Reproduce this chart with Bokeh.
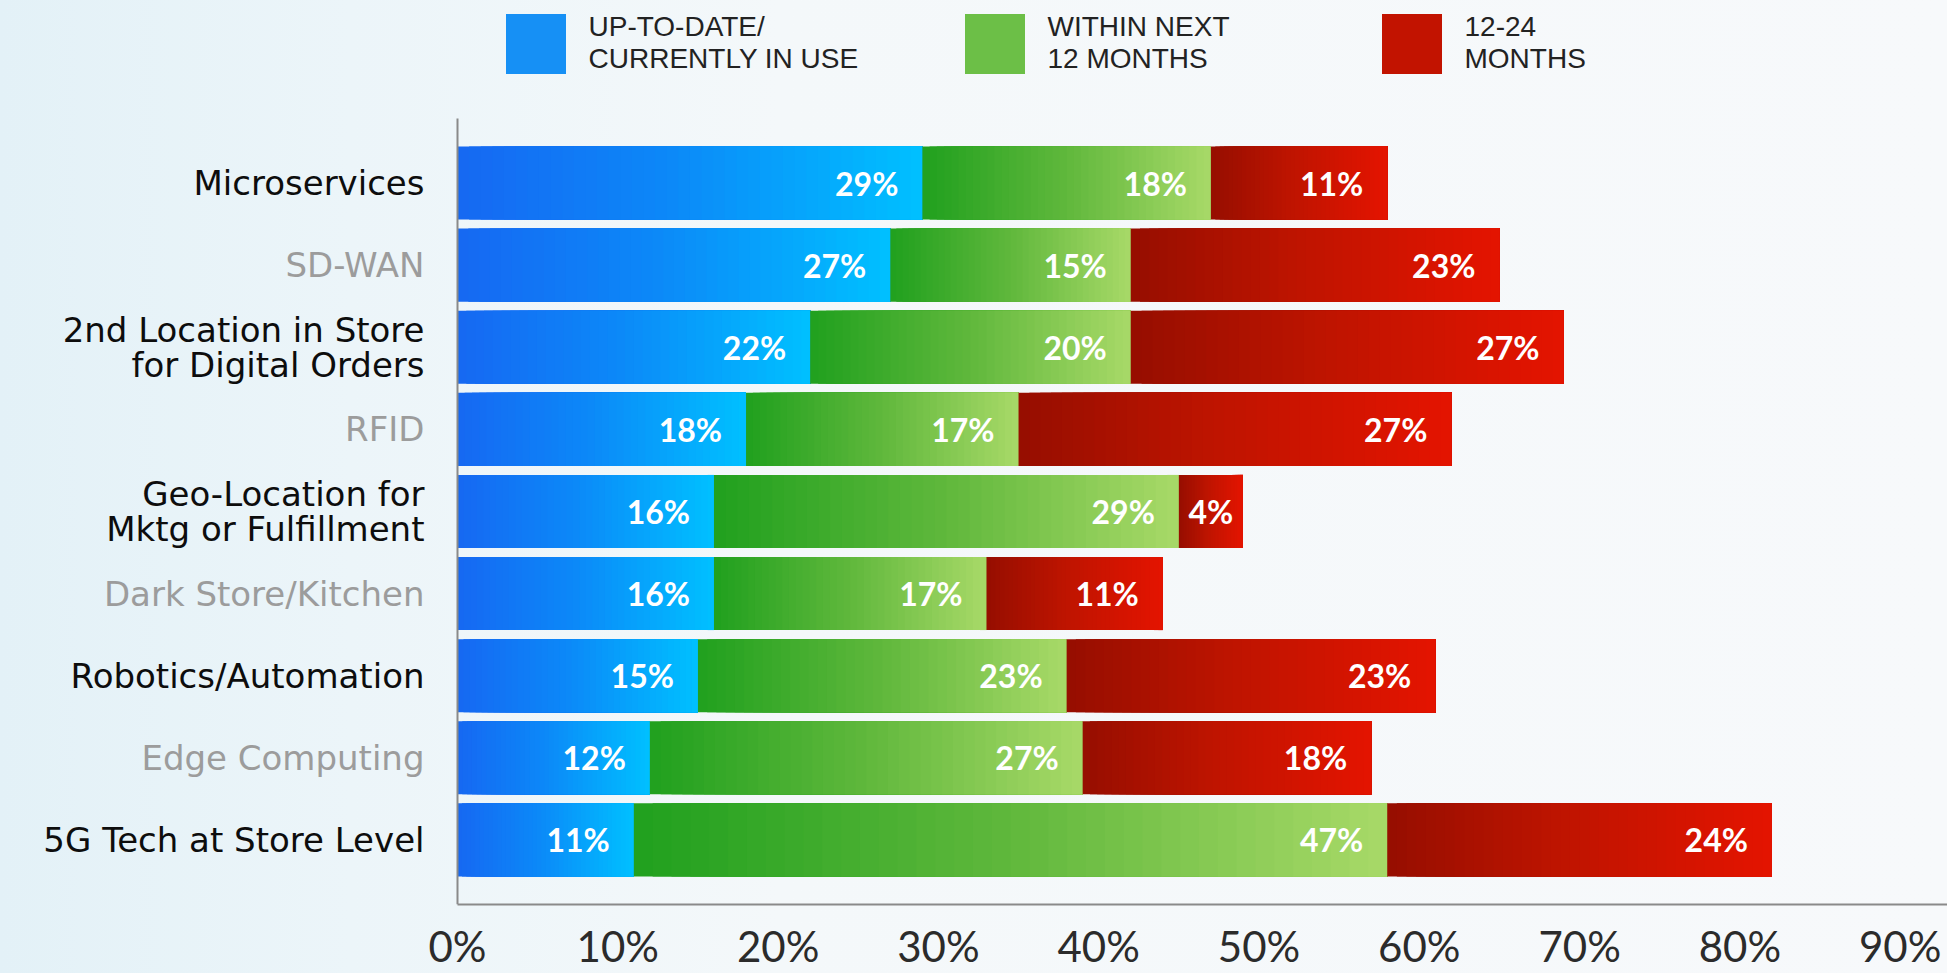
import numpy as np
from bokeh.plotting import figure
from bokeh.models import (ColumnDataSource, Range1d, FixedTicker,
                          Legend, LegendItem)
from bokeh.core.properties import value
from bokeh.embed import file_html
from bokeh.resources import INLINE

# ---------------- data ----------------
categories = [
    "Microservices",
    "SD-WAN",
    "2nd Location in Store\nfor Digital Orders",
    "RFID",
    "Geo-Location for\nMktg or Fulfillment",
    "Dark Store/Kitchen",
    "Robotics/Automation",
    "Edge Computing",
    "5G Tech at Store Level",
]
in_use = [29, 27, 22, 18, 16, 16, 15, 12, 11]
next_12_months = [18, 15, 20, 17, 29, 17, 23, 27, 47]
months_12_24 = [11, 23, 27, 27, 4, 11, 23, 18, 24]
series_names = ["UP-TO-DATE/\nCURRENTLY IN USE", "WITHIN NEXT\n12 MONTHS", "12-24\nMONTHS"]
x_ticks = [0, 10, 20, 30, 40, 50, 60, 70, 80, 90]
x_tick_labels = ["0%", "10%", "20%", "30%", "40%", "50%", "60%", "70%", "80%", "90%"]

# ---------------- styles ----------------
gradients = [
    [(0.0, (22, 104, 242)), (0.45, (12, 136, 248)), (1.0, (0, 192, 255))],
    [(0.0, (32, 160, 30)), (0.5, (96, 184, 60)), (1.0, (168, 217, 104))],
    [(0.0, (150, 14, 0)), (0.45, (190, 20, 0)), (1.0, (228, 20, 0))],
]
legend_colors = ["#1690f5", "#6cbf47", "#c21300"]
N_SLICES = 40

W, H = 1947, 973
PX_PER_UNIT = 16.03          # pixels per percentage point
AXIS_X = 457                 # page x of the 0% line
FRAME_BOTTOM = 904           # page y of the x axis
ROW_PX = 82.1                # row pitch in pixels
FIRST_ROW_Y = 182.5          # page y of first row centre


def grad_color(stops, t):
    for (p0, c0), (p1, c1) in zip(stops[:-1], stops[1:]):
        if t <= p1:
            f = (t - p0) / (p1 - p0)
            c = [round(a + (b - a) * f) for a, b in zip(c0, c1)]
            return "#%02x%02x%02x" % tuple(c)
    return "#%02x%02x%02x" % stops[-1][1]


n = len(categories)
ypos = list(range(n))
series = [in_use, next_12_months, months_12_24]

x_start = -AXIS_X / PX_PER_UNIT
x_end = (W - AXIS_X) / PX_PER_UNIT
y_top = -FIRST_ROW_Y / ROW_PX
pad = 0.787
y_bottom = n - 1 + pad

p = figure(width=W, height=H,
           x_range=Range1d(x_start, x_end), y_range=Range1d(y_bottom, y_top),
           output_backend="svg", toolbar_location=None,
           min_border_left=0, min_border_right=0,
           min_border_top=0, min_border_bottom=H - FRAME_BOTTOM)
p.background_fill_alpha = 0
p.border_fill_alpha = 0
p.outline_line_color = None
p.xgrid.visible = False
p.ygrid.visible = False
p.yaxis.visible = False
p.styles = {"background": "linear-gradient(90deg, #e3f1f7 0%, #ecf5f9 18%, #f4f8fa 40%, #f7f9fb 100%)"}

# gradient bars: each segment drawn as overlapping slices
sl_y, sl_l, sl_r, sl_c = [], [], [], []
lab_x, lab_y, lab_t = [], [], []
lab_cx, lab_cy, lab_ct = [], [], []
cum = [0.0] * n
for j, vals in enumerate(series):
    for i in range(n):
        start = cum[i]
        v = vals[i]
        end = start + v
        for k in range(N_SLICES):
            sl_y.append(ypos[i])
            sl_l.append(start + v * k / N_SLICES)
            sl_r.append(end)
            sl_c.append(grad_color(gradients[j], (k + 0.5) / N_SLICES))
        if v >= 6:
            lab_x.append(end); lab_y.append(ypos[i]); lab_t.append(f"{v}%")
        else:
            lab_cx.append((start + end) / 2); lab_cy.append(ypos[i]); lab_ct.append(f"{v}%")
        cum[i] = end

bars = ColumnDataSource(dict(y=sl_y, left=sl_l, right=sl_r, color=sl_c))
p.hbar(y="y", left="left", right="right", height=0.89, source=bars,
       fill_color="color", line_color=None)

p.text(x=lab_x, y=lab_y, text=lab_t, x_offset=-24, y_offset=0,
       text_align="right", text_baseline="middle",
       text_font=value("Lato"), text_font_style="bold",
       text_font_size="32px", text_color="white")
p.text(x=lab_cx, y=lab_cy, text=lab_ct, y_offset=0,
       text_align="center", text_baseline="middle",
       text_font=value("Lato"), text_font_style="bold",
       text_font_size="32px", text_color="white")

# left axis line (y axis of the bars)
p.segment(x0=[0], y0=[-pad], x1=[0], y1=[y_bottom], line_color="#8a8a8a", line_width=2)

# category labels
cat_colors = ["#0d0d0d" if i % 2 == 0 else "#9c9c9c" for i in range(n)]
cat_src = ColumnDataSource(dict(x=[0] * n, y=ypos, text=categories, color=cat_colors))
p.text(x="x", y="y", text="text", source=cat_src, x_offset=-33,
       text_align="right", text_baseline="middle",
       text_font=value("DejaVu Sans"), text_font_size="34px",
       text_color="color", text_line_height=0.88)

# x axis
xa = p.xaxis[0]
xa.bounds = (0, x_end)
xa.ticker = FixedTicker(ticks=x_ticks)
xa.major_label_overrides = {t: s for t, s in zip(x_ticks, x_tick_labels)}
xa.major_tick_line_color = None
xa.minor_tick_line_color = None
xa.axis_line_color = "#8a8a8a"
xa.axis_line_width = 2
xa.major_label_text_font = "Lato"
xa.major_label_text_font_size = "42px"
xa.major_label_text_color = "#2b2b2b"
xa.major_label_standoff = 10

# legend (three separately placed entries, inside the frame above the bars)
legend_x = [497.5, 956.5, 1373.5]
for name, col, lx in zip(series_names, legend_colors, legend_x):
    # zero-width proxy bar: only supplies the legend swatch
    r = p.hbar(y=[0], left=[0], right=[0], height=0.5, fill_color=col, line_color=None)
    leg = Legend(items=[LegendItem(label=value(name), renderers=[r])],
                 location=(lx, FRAME_BOTTOM - 80.5), glyph_width=75, glyph_height=75,
                 label_standoff=16, padding=0, margin=0, spacing=0,
                 border_line_color=None, background_fill_alpha=0,
                 label_text_font="Liberation Sans", label_text_font_size="28px",
                 label_text_color="#222222", label_text_line_height=1.2)
    p.add_layout(leg)

open("out.html", "w").write(file_html(p, INLINE))
